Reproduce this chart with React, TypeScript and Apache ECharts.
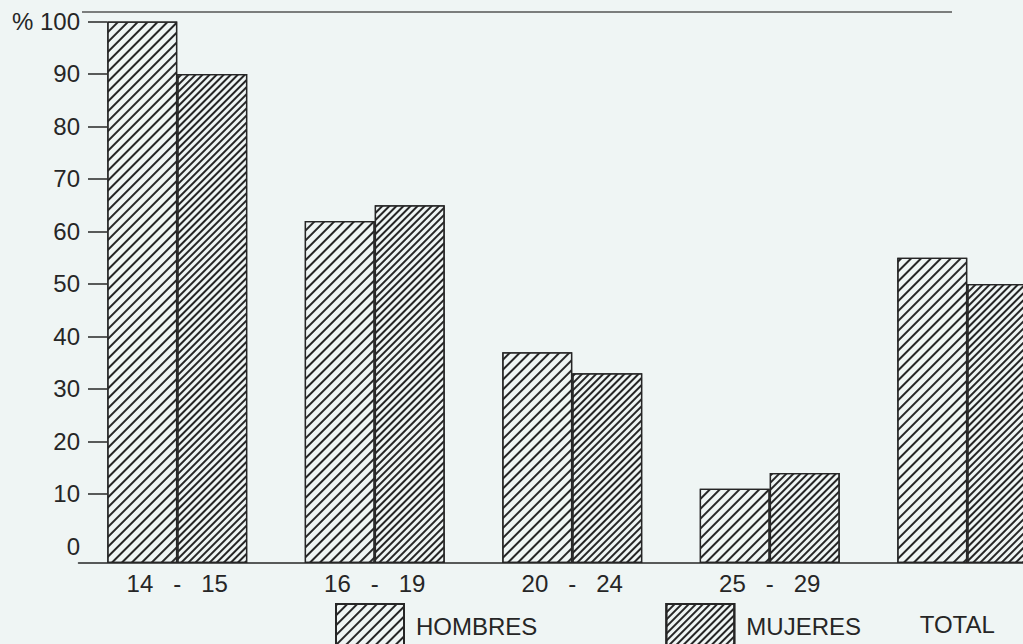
import React, { useEffect, useRef } from "react";
import * as echarts from "echarts";

const categories = ["14   -   15", "16   -   19", "20   -   24", "25   -   29", "TOTAL"];
const hombres = [100, 62, 37, 11, 55];
const mujeres = [90, 65, 33, 14, 50];
const yTicks = [10, 20, 30, 40, 50, 60, 70, 80, 90, 100];
const yLabels = [0, 10, 20, 30, 40, 50, 60, 70, 80, 90, 100];

const BG = "#eff5f4";
const INK = "#262626";
const FONT = "'Liberation Sans', Arial, Helvetica, sans-serif";

export default function App() {
  const ref = useRef<HTMLDivElement>(null);
  useEffect(() => {
    if (!ref.current) return;
    const chart = echarts.init(ref.current, null, { renderer: "svg" });
    const hatch = (w: number, gap: number) => ({
      symbol: "rect",
      symbolSize: 1,
      dashArrayX: [1, 0],
      dashArrayY: [w, gap],
      rotation: -Math.PI / 4,
      color: INK,
      backgroundColor: "transparent",
    });
    chart.setOption({
      animation: false,
      backgroundColor: BG,
      textStyle: { fontFamily: FONT },
      grid: {
        left: 78.5,
        right: -43,
        top: 21.5,
        bottom: 81,
        containLabel: false,
        outerBoundsMode: "none",
      },
      legend: {
        left: 335,
        top: 603,
        padding: 0,
        itemGap: 128,
        itemWidth: 68,
        itemHeight: 44,
        icon: "rect",
        selectedMode: false,
        textStyle: { fontSize: 24, color: INK, fontFamily: FONT, padding: [0, 0, 0, 7] },
        data: ["HOMBRES", "MUJERES"],
      },
      xAxis: {
        type: "category",
        data: categories,
        axisLine: { onZero: false, lineStyle: { color: INK, width: 1.5 } },
        axisTick: { show: false },
        axisLabel: {
          interval: 0,
          margin: 8,
          fontSize: 24,
          color: INK,
          fontFamily: FONT,
          formatter: (v: string) => (v === "TOTAL" ? "{t|TOTAL}" : v),
          rich: {
            t: { fontSize: 24, color: INK, fontFamily: FONT, padding: [41, 20, 0, 0] },
          },
        },
      },
      yAxis: {
        type: "value",
        min: -3.15,
        max: 100,
        startValue: -3.15,
        offset: -28.5,
        splitLine: { show: false },
        axisLine: { show: false },
        axisTick: {
          show: true,
          length: 19,
          customValues: yTicks,
          lineStyle: { color: INK, width: 1.5 },
        },
        axisLabel: {
          margin: 27,
          fontSize: 24,
          color: INK,
          fontFamily: FONT,
          customValues: yLabels,
          formatter: (v: number) => (v === 100 ? "% 100" : String(v)),
        },
      },
      graphic: [
        {
          type: "line",
          shape: { x1: 82, y1: 12, x2: 952, y2: 12 },
          style: { stroke: "#555", lineWidth: 1.3 },
          silent: true,
        },
      ],
      series: [
        {
          name: "HOMBRES",
          type: "bar",
          data: hombres,
          barWidth: 70,
          barGap: "0%",
          itemStyle: {
            color: BG,
            borderColor: INK,
            borderWidth: 1.3,
            decal: hatch(1.5, 5),
          },
        },
        {
          name: "MUJERES",
          type: "bar",
          data: mujeres,
          barWidth: 70,
          barGap: "0%",
          itemStyle: {
            color: BG,
            borderColor: INK,
            borderWidth: 1.3,
            decal: hatch(1.4, 2.2),
          },
        },
      ],
    });
    return () => chart.dispose();
  }, []);
  return (
    <div
      ref={ref}
      style={{ position: "fixed", left: 0, top: 0, width: 1023, height: 644 }}
    />
  );
}
